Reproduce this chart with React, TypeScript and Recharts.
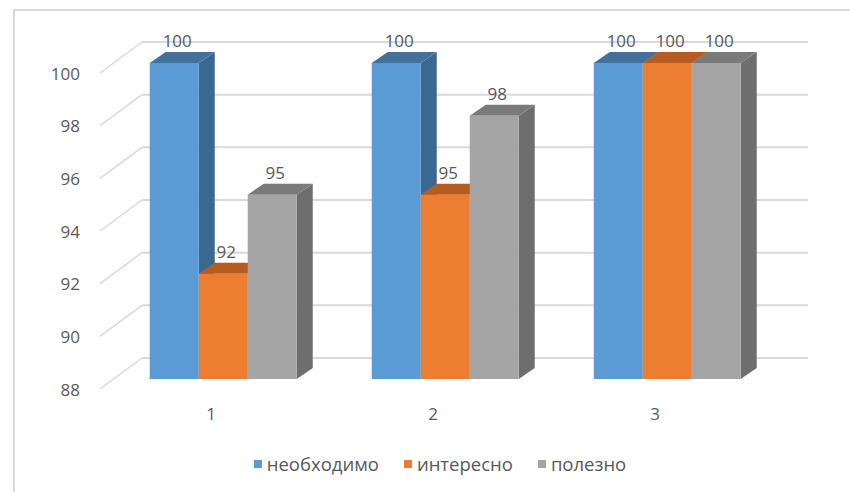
import { BarChart, Bar, XAxis, YAxis, CartesianGrid, LabelList } from "recharts";

const categories = ["1", "2", "3"];
const necessary = [100, 100, 100];
const interesting = [92, 95, 100];
const useful = [95, 98, 100];
const yTicks = [88, 90, 92, 94, 96, 98, 100];
const seriesNames = ["необходимо", "интересно", "полезно"];

const data = categories.map((c, i) => ({
  name: c,
  necessary: necessary[i],
  interesting: interesting[i],
  useful: useful[i],
}));

const series = [
  { key: "necessary", name: seriesNames[0], front: "#5B9BD5", top: "#41719C", side: "#3A6890" },
  { key: "interesting", name: seriesNames[1], front: "#ED7D31", top: "#B65C21", side: "#A8541D" },
  { key: "useful", name: seriesNames[2], front: "#A5A5A5", top: "#7A7A7A", side: "#6E6E6E" },
];

const FONT = "'Open Sans', 'Noto Sans', sans-serif";
const TEXT = "#595959";
const GRID = "#D9D9D9";
// 3d look: bar depth offset, bar lift, wall offset
const DX = 16;
const DY = 11;
const LIFT = 10;
const WALL_X = 30;
const WALL_Y = 31;

function Prism(props: any) {
  const { x, y, width, height, colors } = props;
  if (width == null || height == null) return null;
  const t = y - LIFT;
  const b = t + height;
  return (
    <g>
      <polygon
        points={`${x + width},${t} ${x + width + DX},${t - DY} ${x + width + DX},${b - DY} ${x + width},${b}`}
        fill={colors.side}
      />
      <polygon
        points={`${x},${t} ${x + DX},${t - DY} ${x + width + DX},${t - DY} ${x + width},${t}`}
        fill={colors.top}
      />
      <rect x={x} y={t} width={width} height={height} fill={colors.front} />
    </g>
  );
}

function TopLabel(props: any) {
  const { x, y, width, value } = props;
  return (
    <text
      x={x + width / 2 + 3}
      y={y - LIFT - DY - 5}
      textAnchor="middle"
      fontSize={17}
      fontFamily={FONT}
      fill={TEXT}
    >
      {value}
    </text>
  );
}

function YTick({ x, y, payload }: any) {
  return (
    <text x={x - 32} y={y} textAnchor="end" dominantBaseline="central" fontSize={17} fontFamily={FONT} fill={TEXT}>
      {payload.value}
    </text>
  );
}

function XTick({ x, y, payload }: any) {
  return (
    <text x={x - 12} y={y + 24} textAnchor="middle" dominantBaseline="central" fontSize={17} fontFamily={FONT} fill={TEXT}>
      {payload.value}
    </text>
  );
}

function WallLine(p: any) {
  return (
    <g key={`wall-${p.index}-${p.y1}`}>
      <line x1={p.x1 - 12} y1={p.y1} x2={p.x1 + WALL_X} y2={p.y1 - WALL_Y} stroke={GRID} strokeWidth={1.5} />
      <line x1={p.x1 + WALL_X} y1={p.y1 - WALL_Y} x2={p.x2 + WALL_X} y2={p.y1 - WALL_Y} stroke={GRID} strokeWidth={2} />
    </g>
  );
}

function LegendRow() {
  return (
    <div
      style={{
        position: "absolute",
        top: 451,
        left: 30,
        width: 820,
        display: "flex",
        justifyContent: "center",
        gap: 25,
        fontFamily: FONT,
        fontSize: 18.5,
        color: TEXT,
      }}
    >
      {series.map((s) => (
        <div key={s.key} style={{ display: "flex", alignItems: "center", gap: 5 }}>
          <span style={{ width: 8, height: 8, background: s.front, display: "inline-block" }} />
          <span>{s.name}</span>
        </div>
      ))}
    </div>
  );
}

export default function App() {
  return (
    <div style={{ position: "absolute", left: 0, top: 0, width: 850, height: 492, background: "#fff", overflow: "hidden" }}>
      <div
        style={{
          position: "absolute",
          left: 13,
          top: 9,
          width: 837,
          height: 483,
          borderTop: `2px solid ${GRID}`,
          borderLeft: `2px solid ${GRID}`,
          boxSizing: "border-box",
        }}
      />
      <div style={{ position: "absolute", left: 0, top: 0 }}>
        <BarChart
          width={850}
          height={492}
          data={data}
          margin={{ top: 73, right: 72, bottom: 73, left: 52 }}
          barCategoryGap="17%"
          barGap={0}
        >
          <CartesianGrid vertical={false} horizontal={WallLine} />
          <XAxis
            dataKey="name"
            axisLine={false}
            tickLine={false}
            tickSize={0}
            tickMargin={0}
            height={30}
            tick={<XTick />}
          />
          <YAxis
            domain={[88, 100]}
            ticks={yTicks}
            axisLine={false}
            tickLine={false}
            tickSize={0}
            tickMargin={0}
            width={60}
            tick={<YTick />}
          />
          {series.map((s) => (
            <Bar
              key={s.key}
              dataKey={s.key}
              name={s.name}
              fill={s.front}
              isAnimationActive={false}
              shape={(p: any) => <Prism {...p} colors={s} />}
            >
              <LabelList dataKey={s.key} content={<TopLabel />} />
            </Bar>
          ))}
        </BarChart>
      </div>
      <LegendRow />
    </div>
  );
}
